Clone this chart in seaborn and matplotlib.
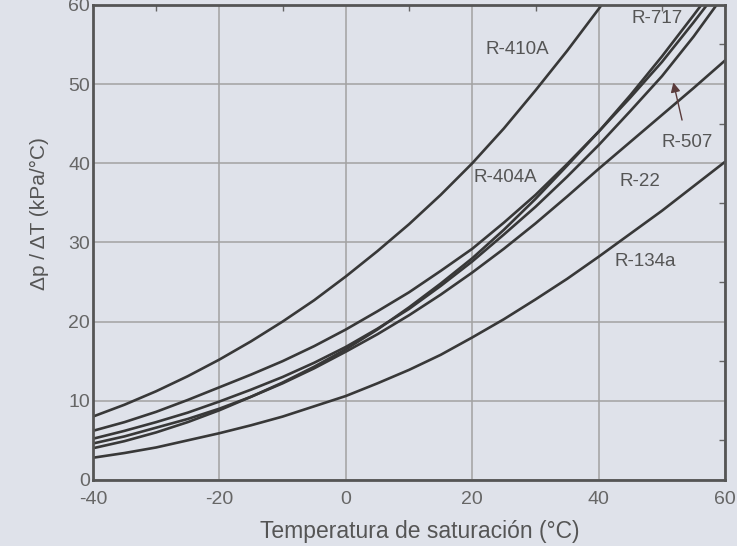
import pandas as pd
import matplotlib.pyplot as plt
from matplotlib.ticker import MultipleLocator
import seaborn as sns

# Temperaturas de saturación (°C)
temperatura = [-40, -35, -30, -25, -20, -15, -10, -5, 0, 5, 10,
               15, 20, 25, 30, 35, 40, 45, 50, 55, 60]

# dp/dT (kPa/°C)
r410a = [8.0, 9.5, 11.2, 13.1, 15.2, 17.5, 20.0, 22.7, 25.7, 28.9, 32.3,
         36.0, 40.0, 44.4, 49.2, 54.2, 59.5, 65.0, 71.0, 77.0, 84.0]
r404a = [6.2, 7.3, 8.6, 10.1, 11.7, 13.3, 15.0, 16.9, 19.0, 21.3, 23.7,
         26.4, 29.2, 32.5, 36.0, 39.9, 44.0, 48.3, 52.8, 57.8, 63.0]
r717 = [4.0, 4.9, 6.0, 7.3, 8.8, 10.5, 12.3, 14.3, 16.5, 19.0, 21.8,
        24.8, 28.0, 31.6, 35.5, 39.7, 44.0, 48.6, 53.5, 58.7, 64.0]
r507 = [5.2, 6.2, 7.3, 8.5, 9.9, 11.4, 13.0, 14.8, 16.8, 19.1, 21.6,
        24.5, 27.6, 31.0, 34.5, 38.3, 42.3, 46.6, 51.0, 56.0, 61.5]
r22 = [4.6, 5.5, 6.6, 7.7, 9.0, 10.5, 12.2, 14.1, 16.2, 18.4, 20.8,
       23.4, 26.2, 29.2, 32.4, 35.8, 39.3, 42.7, 46.1, 49.5, 53.0]
r134a = [2.8, 3.4, 4.1, 5.0, 5.9, 6.9, 8.0, 9.3, 10.6, 12.2, 13.9,
         15.8, 18.0, 20.3, 22.8, 25.4, 28.2, 31.1, 34.0, 37.1, 40.2]

series = {'R-410A': r410a, 'R-404A': r404a, 'R-717': r717,
          'R-507': r507, 'R-22': r22, 'R-134a': r134a}

# etiquetas de las curvas (posición en datos)
etiquetas = {'R-410A': (27.2, 54.4), 'R-717': (49.2, 58.3),
             'R-404A': (25.2, 38.2), 'R-22': (46.5, 37.7),
             'R-134a': (47.3, 27.6)}

fondo = '#dfe2ea'
gris = '#383838'

sns.set_style("whitegrid")
plt.rcParams['font.family'] = ['Liberation Sans Narrow', 'Liberation Sans', 'DejaVu Sans']
plt.rcParams['axes.unicode_minus'] = False

df = pd.concat([pd.DataFrame({'T': temperatura, 'dpdT': v, 'gas': k})
                for k, v in series.items()])

fig = plt.figure(figsize=(7.37, 5.46), dpi=100, facecolor=fondo)
ax = fig.add_axes([0.126, 0.121, 0.858, 0.870])
ax.set_facecolor(fondo)

sns.lineplot(data=df, x='T', y='dpdT', hue='gas',
             palette={k: gris for k in series}, linewidth=1.9,
             legend=False, ax=ax, sort=False)

ax.set_xlim(-40, 60)
ax.set_ylim(0, 60)
ax.xaxis.set_major_locator(MultipleLocator(20))
ax.yaxis.set_major_locator(MultipleLocator(10))
ax.xaxis.set_minor_locator(MultipleLocator(10))
ax.yaxis.set_minor_locator(MultipleLocator(5))
ax.grid(True, which='major', color='#a2a2a2', linewidth=1.1)
ax.tick_params(which='both', direction='in', top=True, right=True,
               colors='#666666', labelcolor='#666666', labelsize=14)
ax.tick_params(which='major', length=0)
ax.tick_params(axis='y', which='major', pad=2)
ax.tick_params(axis='x', which='major', pad=8)
ax.tick_params(which='minor', length=4, width=1)
for s in ax.spines.values():
    s.set_color('#555555')
    s.set_linewidth(2)

ax.set_xlabel('Temperatura de saturación (°C)', fontsize=16.5,
              color='#555555', family=['Liberation Sans', 'DejaVu Sans'])
ax.xaxis.set_label_coords(0.517, -0.085)
ax.set_ylabel('Δp / ΔT (kPa/°C)', fontsize=15, color='#555555',
              family=['Liberation Sans', 'DejaVu Sans'])
ax.yaxis.set_label_coords(-0.07, 0.56)

for nombre, (x, y) in etiquetas.items():
    ax.text(x, y, nombre, fontsize=13.5, color='#555555',
            ha='center', va='center')

ax.annotate('R-507', xy=(51.8, 50.2), xytext=(54.0, 42.6),
            fontsize=13.5, color='#555555', ha='center', va='center',
            arrowprops=dict(arrowstyle='-|>', color='#5a3b3b',
                            lw=1, shrinkA=8, shrinkB=0, mutation_scale=14))

fig.savefig('out.png', dpi=100, facecolor=fondo)
